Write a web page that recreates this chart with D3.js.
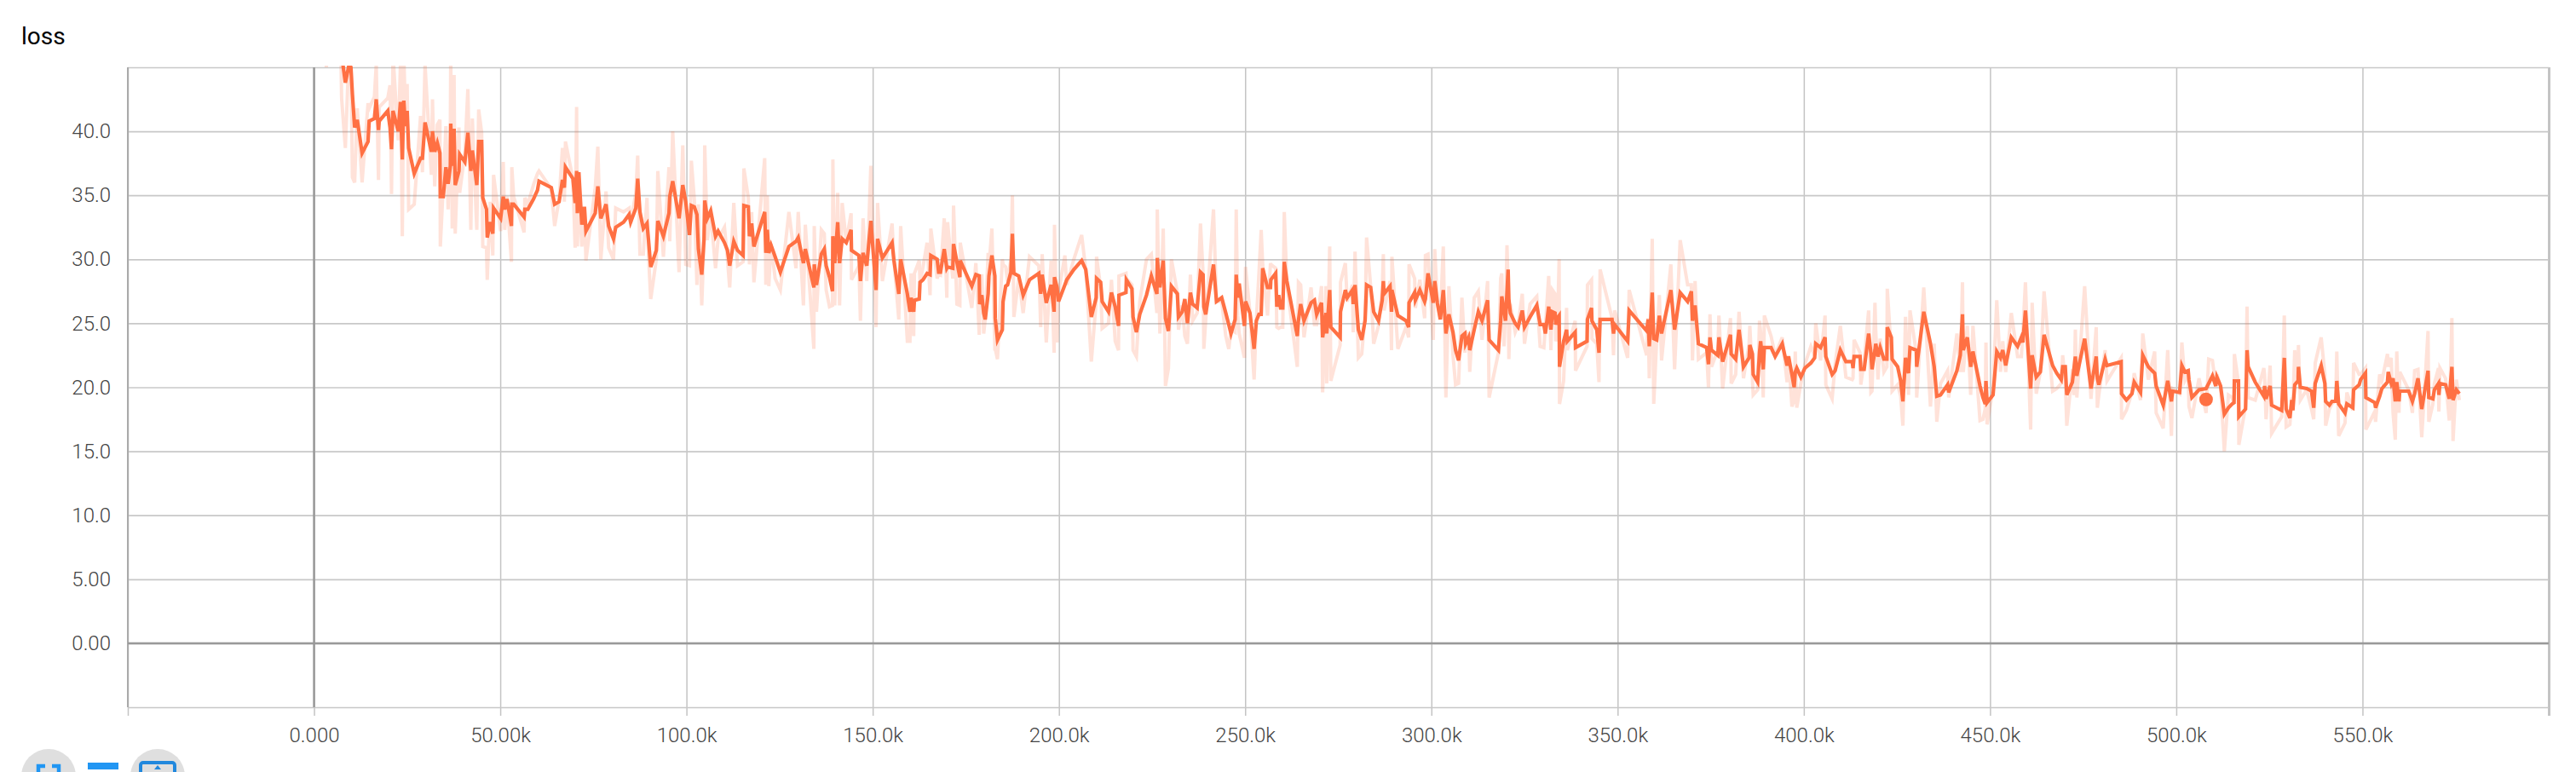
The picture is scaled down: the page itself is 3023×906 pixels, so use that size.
<!DOCTYPE html>
<html>
<head>
<meta charset="utf-8">
<script src="https://d3js.org/d3.v7.min.js"></script>
<style>
  body { margin: 0; background: #fff; }
  text { font-family: Roboto, sans-serif; }
  .axis text { font-size: 24px; font-weight: 300; fill: #444; }
</style>
</head>
<body>
<div id="chart-area"><svg></svg></div>
<script>
// steps are in thousands, one stretch at a time
const stepsA = [2,3.3,5,7,7.4,8.4,9.4,9.9,10.3,10.9,11.6,12.9,14.5,14.8,16.2,16.7,17.3,17.5,19.8,20.4,
  20.8,21.2,22.6,23.2,23.7,24.1,24.5,25,25.4,26.9,28.6,29.1,29.8,31.5,31.8,32.4,33.1,33.8,33.9,34.7,
  35.4,36,36.6,36.7,37.1,37.6,37.9,38.9,39.1,40.5,41.3,42.1,42.5,43.7,44.2,45,45.3,46.3,46.5,47.3,
  48,48.2,50.1,50.8,51.2,51.8,53,53.1,53.6,56.4,56.6,57.4,58.9,60,60.4,63.7,64.6,65.8,66.7,67.2,
  67.5,69.5,70.1,70.5,70.7,71.1,71.9,72.6,73,75.5,76.2,77,78.4,79.1,80.4,81,83.1,84.6,85,86.4,
  86.9,87.5,88.4,89.4,89.8,90.4,91.9,92.3,93.8,95.3,95.5,96.3,98];
const smoothA = [60,58,54,50,46,43.8,45.2,45,42.9,40.3,40.9,38.3,39.2,40.8,41,42.5,40.1,40.8,41.6,40.3,
  38.6,41.6,40,42.3,37.8,42.4,40.4,41.6,38.7,36.7,37.9,37.9,40.7,38.4,40,38.4,39.1,38.3,34.9,34.9,
  37.2,35.9,37.3,40.6,37.3,40.2,35.8,36.9,38.2,37.6,39.9,36.9,38.5,35.8,39.2,39.2,34.8,33.9,31.7,32.9,
  32,34,33.2,34.9,33.9,34.7,32.6,34.3,34.3,33.3,33.9,33.9,34.7,35.4,36.1,35.6,34.3,34.5,36.2,35.6,
  37.2,36.3,34.4,36.9,33.6,36.8,32.7,34.1,32.2,33.6,35.7,33.2,34.3,32.6,31.6,32.5,32.9,33.5,32.9,34,
  36.3,33.7,32.4,32.8,31.5,29.4,30.7,33,31.8,33.6,34.9,36.1,33.2];
const rawA = [60,45,55,50,42.6,38.7,46.3,45.8,36.4,36,41.8,36,42.2,41.8,42.7,45.2,36.2,41.9,42.6,43.6,
  35.1,46,39.3,45.2,31.8,46,41.6,43.7,33.9,34.3,41.2,36.8,45.2,36.6,42.5,35.7,40.5,40.9,31,35.8,
  40.4,33.9,40.5,45.8,32.4,44.4,32,40.3,35.2,38.3,43.3,32.3,41,32.3,41.7,39.9,31,30.9,28.4,34.5,
  30.3,36.6,32.2,37.6,32.3,34.9,29.8,37.2,34.9,32.1,34.8,34.3,35.8,36.7,36.9,35.5,32.6,34.7,38.7,34.5,
  39.2,36.3,30.9,41.9,31,35.6,31,34,29.9,35.6,38.8,30,35.3,30.9,30,34,33.7,34,32.8,35.2,
  38.1,30.4,30.4,34.8,30.3,26.9,30,36.9,30.2,37.2,31.4,40,29];

const stepsB = [99,99.8,100.8,101.3,102.1,102.8,103.2,104.1,104.7,104.9,105.6,106.5,107.8,108.5,110.2,111,111.6,112.7,113.7,115.2,
  115.4,116.6,116.9,117.5,118.1,121,121.3,121.7,122.1,122.7,123.8,125.2,127.5,129.4,130,131.4,131.9,134.2,134.3,134.9,
  136.2,137,137.5,138.4,139.2,139.3,139.8,140.6,141.1,141.8,142.9,144.2,144.3,146.3,146.7,147.4,148.4,149.5,150.9,151.3,
  152.6,155.2,155.7,157,157.5,159.3,160,160.3,161,161.2,162.5,162.7,163.5,164.6,165.4,165.6,167.3,167.7,168.2,169.2,
  169.9,170.1,171.5,171.7,172.6,173.4,173.5,176.6,177.7,178.6,178.7,179.3,179.8,180.2,181,181.2,182,182.8,182.9,183.5,
  184.8,185,185.7,186.2,187.1,187.5,187.9,189.2,190.4,192.1,194.6,195.1,195.5,196.6,197.9,198.7,198.8,199.5,199.9,201.6];
const smoothB = [35.8,34.5,31.9,34.2,34.1,33.5,30.8,28.8,31.5,34.6,33.2,33.8,31.8,32.2,31.3,30.7,29.5,31.4,30.7,30.3,
  34.2,34.1,31.8,32.8,31,33.7,30.5,32.3,30.5,31.1,30.2,29,31,31.4,31.7,29.7,30.8,27.8,29.6,28,
  30.4,30.8,29.5,28.6,27.5,31.8,29.7,32.9,29.7,31.6,31.3,32.3,30.7,30.3,28.3,30.5,29.5,33,27.6,31.6,
  30.1,31.3,29.9,27.3,30,27.3,25.9,27,25.9,26.8,26.9,28.2,28.4,28.9,28.8,30.3,30,29,29,30.8,
  29.3,29.4,29.3,31.2,29.8,28.6,29.9,27.9,28.8,28.7,26.5,27.2,25.8,25.3,27.3,28.7,30.3,28.7,25.4,23.7,
  24.5,26.7,27.9,28,29,32,28.9,28.7,27.2,28.4,28.9,27.3,28.8,26.6,28,25.9,28.6,27.8,26.7,28];
const rawB = [38.9,29.6,29.5,37.7,34.7,28,34.3,26.4,31.4,38.9,31.5,33.6,29.3,31.6,32.5,30,27.8,34.4,29.5,29.8,
  37.1,34.8,29.6,33.7,28.2,37.9,28,35,27.9,31.2,28.5,27.6,33.7,29.3,33.7,26.4,32.7,23,32.6,25.9,
  32.3,32,27.6,26.3,26.4,37.8,26.4,35.2,26.4,34.4,31.4,33.6,28.4,29.5,25.2,33.2,28.3,37.3,24.7,34.4,
  28.3,32.8,29.9,25.3,32.6,23.6,23.6,28.9,24,28.9,29.9,28.2,29.4,31.3,27.2,32.4,28.5,28.9,28.8,33.2,
  27,32.9,28.5,34.2,26.5,26.4,31.3,26.2,29.7,24.1,28.7,28.7,24.2,25.3,30.5,29.4,32.4,23,23,22.2,
  30,29.6,29.4,28.3,30,35,25.5,28.5,25.8,30.2,29.5,24.7,30.4,23.5,29.9,22.7,32.7,23.5,27.4,30.3];

const stepsC = [202.1,204,206.1,207.2,208.7,210,210.1,211.2,211.6,213.3,214.1,215.1,216,216.1,218,218.1,219.6,219.9,220.8,221.7,
  223.5,224.8,226.3,226.4,227.1,228,228.6,229.4,230.2,231.8,232.1,233.1,233.8,234.5,235.3,235.9,237.1,238,238.7,238.9,
  239.4,241.5,242.3,243.7,244.8,245.6,246.2,247.3,247.6,248,248.4,249.8,250.1,251.3,252.4,253,253.7,254.3,254.7,256,
  256.8,256.9,258.2,258.5,259,259.5,260.1,260.5,261.2,264,264.3,264.9,265.8,267.7,268.6,269.2,270.5,270.8,271.7,271.9,
  272.7,273,275.5,275.6,276.9,277.4,278.8,279,279.5,280.4,281.3,282.2,282.6,283.7,284.5,285.8,286.8,287.1,287.3,288.9,
  289.3,289.4,291,293.2,293.9,294,295.5,295.7,296.9,298.2,298.4,299.1,300.5,300.9,301.6,302.4,303.2,303.9,304.7];
const smoothC = [28.4,29.2,29.9,29.2,25.5,27,28.5,28.2,26.7,25.9,27.4,26.3,24.8,27.2,27.4,28.4,27.7,25.5,24.3,25.7,
  27.2,28.7,27.3,30.1,27.8,29.9,25.4,24.4,27.9,27.3,25.5,25.9,26.9,25,27.4,26.5,26.2,29,28.8,26.3,
  25.7,29.6,26.7,27,25.8,24.9,24.2,25.3,28.8,27,28.1,24.8,26.7,25.8,23,25.2,25.7,25.7,29.3,27.8,
  27.8,28.4,28.9,26.3,27.2,26.2,26.2,29.8,28.3,24,25.2,26.5,25.2,26.6,26.8,25.7,26.6,23.9,25.8,24.2,
  27.6,24.7,23.9,25.9,27.6,27,27.6,26.5,28,24.5,23.7,25.2,28,27.8,25.9,25.2,26.8,28.3,27.3,27.9,
  25.9,27.6,25.6,25.2,24.7,26.6,27.4,26.8,27.6,26.7,26.9,28.9,26.6,28.3,26.6,25.3,27.6,24.2,25.7];
const rawC = [28,30,31.9,29.2,22,26.7,30.2,27.8,24.6,25,28.4,23.6,22.9,28.7,28.9,28.5,28,22.9,22.4,26.7,
  30,30.4,25.8,33.9,24.2,32.4,20.1,21.5,30,27.4,24.5,26.4,24,23.4,28.8,25.2,25.8,32.8,28.9,23,
  25.2,33.9,26.7,26.7,24,23,24.5,24.3,33.9,25.6,24.2,22.3,29.4,25.8,20.6,25.2,28.9,32.3,29.6,25.6,
  29.7,29.6,29.3,24.7,24.6,24.7,24.7,33.7,28,21.6,28.2,28,23.9,27.8,24.9,24.9,27.9,19.6,27.9,20.3,
  31,20.5,23.3,28.2,29.7,26.7,28,24.3,30.6,22.3,22.6,25.6,31.7,27.9,23.4,24.8,27.6,30.4,26,28.3,
  22.9,30.2,23,24.7,23.9,29.6,28.5,26.2,28.4,25.4,30.3,30.4,23.7,30.8,26.6,25.4,31,19.2,27.9];

const stepsD = [305.8,306.5,307.3,308.2,309,309.2,310,310.3,311.5,312.6,313.6,315.1,315.5,318,318.6,318.9,319.5,319.9,320.3,320.6,
  320.8,321.2,322.5,323.3,324.4,325,326.5,328.3,329.2,330.2,330.6,331.5,332.1,332.5,333.2,333.4,333.8,334.3,334.4,335.5,
  336.3,336.5,338.6,338.7,341.8,341.9,343,343.1,344.4,345,345.3,348.5,348.9,349.2,352.7,353.1,357.8,358.2,358.5,359.3,
  359.7,360.5,361.2,361.8,364.3,365.3,366.8,368.8,369.8,370.1,370.8,371.7,373.9,374.4,374.8,375.2,376.9,377.2,378.2,380.3,
  380.5,381.7,382.6,383.8,385.3,385.5,386.2,386.4,387.6,388.1,388.4,389.1,389.4,391.2,392.3,394.2,395.5,395.9,396.8,397.4,
  397.7,398.1,399.2,400.3,401.9,402.9,403.2,404.5,405.7,405.9,407.6];
const smoothD = [24.3,22.9,22.1,24,24.2,23.4,23.9,22.9,24.5,25.9,25.2,26.8,23.7,22.9,25.2,27.1,26,25.2,27.4,29.2,
  26.9,25.8,25,24.7,26,24.7,25.5,26.4,24.9,24.9,24.2,26.3,24.5,25.9,25.8,24.9,25.4,25.6,21.6,23.6,
  24.5,23.6,24.3,23.1,23.6,25.3,26.2,25.2,24.5,22.7,25.3,25.3,24.2,24.9,23.6,26,24.4,25.3,23.2,27.4,
  23.8,23.7,25.6,24.2,27.6,24.5,27.4,26.7,27.5,25.2,26.4,23.4,23.1,21.8,23.9,22.9,22.5,23.9,22,24.1,
  22.6,22.2,24.5,21.6,22.3,23.3,22.6,21,20.4,22.7,23.6,21.4,23.1,23.1,22.4,23.4,21.7,22.4,21,20,
  21.2,21.5,20.8,21.5,21.9,22.3,23.4,23.1,23.9,22.4,21];
const rawD = [22.5,20.2,20.3,27,22.7,23.8,24.3,21.2,27,27.5,23.7,28.3,19.2,22.7,28.5,28.9,23.2,25.8,31.1,28,
  22.2,26.5,24.3,24.9,27.3,23.4,26.5,27.1,23.2,23.1,24.7,28.7,22.9,27.6,27.3,23.6,24,30,18.7,20.5,
  26.2,22.9,25.2,21.3,23.2,28,28.4,23.8,23.4,20.4,29.2,25.4,22.5,26,22.3,27.6,22.5,25.4,20.7,31.6,
  18.7,23.8,27.2,22.1,29.6,21.4,31.5,28,28,22.1,28.3,22.2,22.7,20,25.7,21.6,22.9,25.6,19.9,25.4,
  20.3,21,25.9,20.7,23.4,24.8,20.6,19.4,19.8,25.2,24.3,19.2,25.6,24,22.5,23.9,20.4,22.5,18.5,19,
  22.8,18.4,20.3,21.8,23.2,22.5,25,22.1,25.6,20.2,19.1];

const stepsE = [408.4,409.8,411.3,413,413.2,413.5,415.1,415.3,416.2,417.4,418,418.3,419.1,419.3,419.9,420.5,421.5,422.3,422.4,423.5,
  423.7,425.2,426,426.6,427.3,428.1,428.5,430.2,430.3,432.2,434,435,435.7,436.7,438.6,438.9,441.1,442,442.6,442.8,
  443.9,444.8,445.4,447.3,448.1,448.7,448.9,449.2,450.8,451.8,452.8,453.4,454.2,455.7,457.4,458.4,458.8,459.5,460.9,461.3,
  462.4,463.5,464.5,466.8,467.9,469.1,469.5,470.2,470.6,472.1,472.5,472.9,473.3,475.4,477.1,478.5,478.8,479.2,480.9,481.4,
  485.2,485.3,486.6,488.1,488.7,490.4,491,492.5,494.2,494.6,496.5,497.7,498.7,499,500.9,501.5,502.3,503.2,503.4,504.2,
  506.1,508,508.7,509.7,510.6];
const smoothE = [21.3,22.9,22,22,21.5,22.4,22.4,21.4,21.4,24.2,22.7,21.4,22.9,23.4,22.4,23.1,22.2,22.2,24.7,23.9,
  22.2,21.6,20.5,18.9,22.3,21.1,23.1,22.9,21.6,25.9,23.4,21.6,19.3,19.4,20.2,19.6,21.3,22.5,25.7,22.9,
  23.9,21.6,22.8,20.1,19.2,18.7,20.5,18.8,19.4,22.8,22.3,22.9,21.7,23.9,23.2,23.9,23.5,26,19.9,22.5,
  20.8,21.2,24.1,21.7,21.1,20.6,21.6,21.6,19.4,20.4,21.4,22.4,20.9,23.8,19.9,22.4,20.7,20.2,22.2,21.7,
  22,19.5,19,19.5,20.4,19.6,22.5,21.6,21.1,20.1,18.6,20.5,18.9,19.7,19.6,21.7,21.2,21.3,20.6,19.2,
  19.8,19.9,20.3,20.9,20.1];
const rawE = [21.8,24.8,20.8,20.6,20.7,23.7,22.7,20.2,22.1,26,19.6,19.7,26.6,24.5,20.6,23.8,21.2,21.6,27.7,22.7,
  19.7,20.2,19.3,17,25.5,19.4,26,22.7,19.2,27.8,18.5,23.4,17.3,20.3,21.3,19.2,24.2,21.2,28.2,21.2,
  24.8,19.4,24.8,17.4,17.5,18.3,23.5,17.1,19.9,26.8,21.2,23.6,21.2,25.8,22.4,22.4,24.3,28.2,16.7,26.6,
  19.5,21.2,27.5,19.7,19.9,20.3,22.5,20.5,17,21.4,19.4,24.5,19.2,27.9,19.1,24.7,18.4,19.4,22.9,20.5,
  22.3,17.5,18.2,19.6,21.1,19,24.2,20.6,22.8,18,16.8,22.9,16.2,19.9,19.5,23.5,20.5,21,18.5,17.6,
  20.7,18,22.2,22.1,20.1];

const stepsF = [510.9,511.9,512.9,514,515,515.5,515.6,516.7,516.8,518.6,519,519.3,521.2,523.5,523.7,524.1,525.2,525.6,528.3,529,
  529.5,530.5,531,531.3,531.8,532.7,532.8,533.3,535,536.3,536.9,537.3,538.9,539.9,540.1,541.1,541.8,542.8,543.1,543.6,
  545.3,545.8,547.4,547.6,549.1,549.5,550.8,550.9,553.3,553.5,554.6,555.2,556.7,556.9,557.7,558.2,558.8,559.2,559.8,560,
  562.4,563.4,564,564.9,565.9,567.6,567.8,568.9,569.3,570.4,570.5,570.8,572.3,573.3,574,574.3,575.2,576];
const smoothF = [20.8,20.1,17.9,18.4,18.7,18.8,20.5,20.5,17.7,18.3,22.9,21.6,20.4,19.3,20.1,19.1,20.1,18.6,18.2,22.3,
  18.3,17.6,19,18.2,20.2,20.5,21.6,20,19.9,19.7,18.4,20.3,21.7,20.3,18.9,18.6,18.9,18.9,20.5,18.7,
  18,18.7,18.4,19.8,20.2,20.6,21.1,19.2,18.8,18.4,19.3,19.9,20.4,21.2,20.3,20.7,18.9,20.4,18.9,19.7,
  19.7,18.9,19.5,20.7,18.3,21.3,19.2,19.1,19.8,20.3,19.4,20.3,20.2,19.1,21.6,19,19.8,19.5];
const rawF = [21,20.1,15,19.4,19.2,18.7,22.6,20.3,15.5,18.5,26.3,19.2,19,21.5,21,17.5,21.7,16.4,17.7,25.6,
  16.9,17.1,19.2,18.3,22.9,20.3,23.3,19,19.8,18.3,17.5,21.9,23.9,21,17,18.3,18.7,19,22.8,16.2,
  17.2,19.6,18.2,21.9,21,21,21.5,16.7,18.1,17.3,21,20.5,22.6,21.6,22.3,18,15.9,22.8,18,21.2,
  19.8,18,21.3,21.4,16.1,24.4,17.3,18.7,20.3,21.5,18.1,21.5,20.7,17.4,25.4,15.8,20.6,19];

const hoverStep = 508;
const hoverValue = 19.05;

const xTicks = [-50,0,50,100,150,200,250,300,350,400,450,500,550,600];
const xTickLabels = ['', '0.000', '50.00k', '100.0k', '150.0k', '200.0k', '250.0k', '300.0k', '350.0k', '400.0k', '450.0k', '500.0k', '550.0k', ''];
const yTicks = [-5,0,5,10,15,20,25,30,35,40,45];
const yTickLabels = ['', '0.00', '5.00', '10.0', '15.0', '20.0', '25.0', '30.0', '35.0', '40.0', ''];

const chartSize = { width: 3023, height: 906 };
const margin = { left: 150, right: 32, top: 79, bottom: 76 };
const width = chartSize.width - margin.left - margin.right;
const height = chartSize.height - margin.top - margin.bottom;
const lineColor = '#ff7043';

const steps = [...stepsA, ...stepsB, ...stepsC, ...stepsD, ...stepsE, ...stepsF];
const smoothed = [...smoothA, ...smoothB, ...smoothC, ...smoothD, ...smoothE, ...smoothF];
const raw = [...rawA, ...rawB, ...rawC, ...rawD, ...rawE, ...rawF];

const drawChart = () => {
    const svg = d3.select('#chart-area svg')
        .attr('width', chartSize.width)
        .attr('height', chartSize.height)
        .style('display', 'block');

    svg.append('text')
        .attr('x', 25)
        .attr('y', 52)
        .attr('font-size', 28)
        .attr('fill', '#000')
        .text('loss');

    const g = svg.append('g')
        .attr('transform', `translate(${margin.left},${margin.top})`);

    const x = d3.scaleLinear().domain([-50, 600]).range([0, width]);
    const y = d3.scaleLinear().domain([-5, 45]).range([height, 0]);

    const xAxis = d3.axisBottom(x)
        .tickValues(xTicks)
        .tickSize(10)
        .tickPadding(14)
        .tickFormat((d, i) => xTickLabels[i]);
    const yAxis = d3.axisLeft(y)
        .tickValues(yTicks)
        .tickSize(10)
        .tickPadding(10)
        .tickFormat((d, i) => yTickLabels[i]);

    const xGroup = g.append('g')
        .attr('class', 'axis x-axis')
        .attr('transform', `translate(0,${height})`)
        .call(xAxis);
    const yGroup = g.append('g')
        .attr('class', 'axis y-axis')
        .call(yAxis);

    xGroup.select('.domain').remove();
    yGroup.select('.domain').remove();

    // ticks carry on across the plot as the grid
    xGroup.selectAll('.tick line')
        .attr('y1', -height)
        .attr('stroke', '#c4c4c4')
        .attr('stroke-width', d => d === 600 ? 3 : 1.5);
    yGroup.selectAll('.tick line')
        .attr('x2', width)
        .attr('stroke', '#c8c8c8')
        .attr('stroke-width', 1.7);

    xGroup.selectAll('.tick text').attr('dy', '0.71em');

    svg.append('defs').append('clipPath')
        .attr('id', 'plot-clip')
        .append('rect')
        .attr('y', -2)
        .attr('width', width)
        .attr('height', height + 2);

    g.append('line')
        .attr('x1', x(-50))
        .attr('x2', x(-50))
        .attr('y1', 0)
        .attr('y2', height)
        .attr('stroke', '#aaa')
        .attr('stroke-width', 2);
    g.append('line')
        .attr('x1', x(0))
        .attr('x2', x(0))
        .attr('y1', 0)
        .attr('y2', height)
        .attr('stroke', '#999')
        .attr('stroke-width', 2.5);
    g.append('line')
        .attr('x1', 0)
        .attr('x2', width)
        .attr('y1', y(0))
        .attr('y2', y(0))
        .attr('stroke', '#999')
        .attr('stroke-width', 2.5);

    const plot = g.append('g').attr('clip-path', 'url(#plot-clip)');

    const line = d3.line()
        .x((d, i) => x(steps[i]))
        .y(d => y(d));

    plot.append('path')
        .datum(raw)
        .attr('fill', 'none')
        .attr('stroke', lineColor)
        .attr('stroke-opacity', 0.2)
        .attr('stroke-width', 4)
        .attr('d', line);
    plot.append('path')
        .datum(smoothed)
        .attr('fill', 'none')
        .attr('stroke', lineColor)
        .attr('stroke-width', 4.2)
        .attr('d', line);
    plot.append('circle')
        .attr('cx', x(hoverStep))
        .attr('cy', y(hoverValue))
        .attr('r', 8)
        .attr('fill', lineColor);

    drawButtons(svg);
}

// the row of buttons cut off by the bottom of the window
const drawButtons = (svg) => {
    const blue = '#2196f3';
    const buttons = svg.append('g');

    buttons.selectAll('circle')
        .data([57, 185])
        .enter()
        .append('circle')
        .attr('cx', d => d)
        .attr('cy', 911)
        .attr('r', 32)
        .attr('fill', '#dfdfdf');

    buttons.append('path')
        .attr('d', 'M45 909V899H53M61 899H69V909')
        .attr('fill', 'none')
        .attr('stroke', blue)
        .attr('stroke-width', 4.5);
    buttons.append('rect')
        .attr('x', 103)
        .attr('y', 895)
        .attr('width', 36)
        .attr('height', 8)
        .attr('fill', blue);
    buttons.append('rect')
        .attr('x', 165)
        .attr('y', 895)
        .attr('width', 40)
        .attr('height', 20)
        .attr('rx', 3)
        .attr('fill', 'none')
        .attr('stroke', '#2188dd')
        .attr('stroke-width', 4);
    buttons.append('path')
        .attr('d', 'M181 903L185 898L189 903Z')
        .attr('fill', '#2188dd');
}

window.onload = drawChart;
</script>
</body>
</html>
